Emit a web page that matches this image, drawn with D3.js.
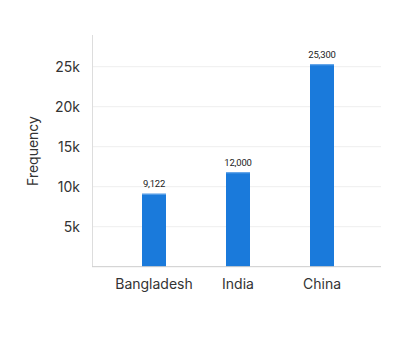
<!DOCTYPE html>
<html><head><meta charset="utf-8">
<script src="https://cdn.jsdelivr.net/npm/d3@7"></script>
<style>body{margin:0;background:#fff}svg{display:block;font-family:Inter,Roboto,sans-serif}</style>
</head><body><svg id="c" width="420" height="352"></svg>
<script>
const categories = ["Bangladesh", "India", "China"];
const values = [9122, 11800, 25300];
const valueLabels = ["9,122", "12,000", "25,300"];
const yTicks = [5000, 10000, 15000, 20000, 25000];
const yTickLabels = ["5k", "10k", "15k", "20k", "25k"];
const yTitle = "Frequency";

const svg = d3.select("#c");
const mLeft = 92, mRight = 381, mTop = 35, mBottom = 266.7;
const y = d3.scaleLinear().domain([0, 28960]).range([mBottom, mTop]);
const x = d3.scaleBand().domain(categories).range([112, 364]).padding(0);
const barW = x.bandwidth() * 0.2857;

// gridlines
svg.append("g").selectAll("line").data(yTicks).join("line")
  .attr("x1", mLeft).attr("x2", mRight)
  .attr("y1", d => y(d)).attr("y2", d => y(d))
  .attr("stroke", "#eeeeee").attr("stroke-width", 1);

// y axis
const yAxis = svg.append("g").attr("transform", `translate(${mLeft},0)`)
  .call(d3.axisLeft(y).tickValues(yTicks).tickFormat((d, i) => yTickLabels[i]).tickSize(0).tickPadding(12));
yAxis.select(".domain").remove();
yAxis.selectAll("text").attr("font-size", 14).attr("fill", "#333").attr("font-family", "Inter");
svg.append("line").attr("x1", mLeft + 0.5).attr("x2", mLeft + 0.5).attr("y1", mTop).attr("y2", mBottom)
  .attr("stroke", "#dddddd");

// bars
svg.append("g").selectAll("rect").data(values).join("rect")
  .attr("x", (d, i) => x(categories[i]) + x.bandwidth() / 2 - barW / 2)
  .attr("width", barW)
  .attr("y", d => y(d))
  .attr("height", d => mBottom - y(d))
  .attr("fill", "#1a7adb");
svg.append("g").selectAll("rect").data(values).join("rect")
  .attr("x", (d, i) => x(categories[i]) + x.bandwidth() / 2 - barW / 2)
  .attr("width", barW)
  .attr("y", d => y(d))
  .attr("height", 1)
  .attr("fill", "#6aaaea");

// value labels
svg.append("g").selectAll("text").data(values).join("text")
  .attr("x", (d, i) => x(categories[i]) + x.bandwidth() / 2)
  .attr("y", d => y(d) - 6.5)
  .attr("text-anchor", "middle")
  .attr("font-size", 9.5).attr("fill", "#222").attr("font-family", "Roboto")
  .attr("letter-spacing", "-0.2")
  .text((d, i) => valueLabels[i]);

// x axis baseline
svg.append("line").attr("x1", mLeft).attr("x2", mRight).attr("y1", mBottom).attr("y2", mBottom)
  .attr("stroke", "#cccccc");
const xAxis = svg.append("g").attr("transform", `translate(0,${mBottom})`)
  .call(d3.axisBottom(x).tickSize(0).tickPadding(12));
xAxis.select(".domain").remove();
xAxis.selectAll("text").attr("font-size", 14).attr("fill", "#333").attr("font-family", "Inter");

// y title
svg.append("text").attr("transform", `translate(38,151) rotate(-90)`)
  .attr("text-anchor", "middle").attr("font-size", 14).attr("fill", "#333")
  .text(yTitle);
</script></body></html>
